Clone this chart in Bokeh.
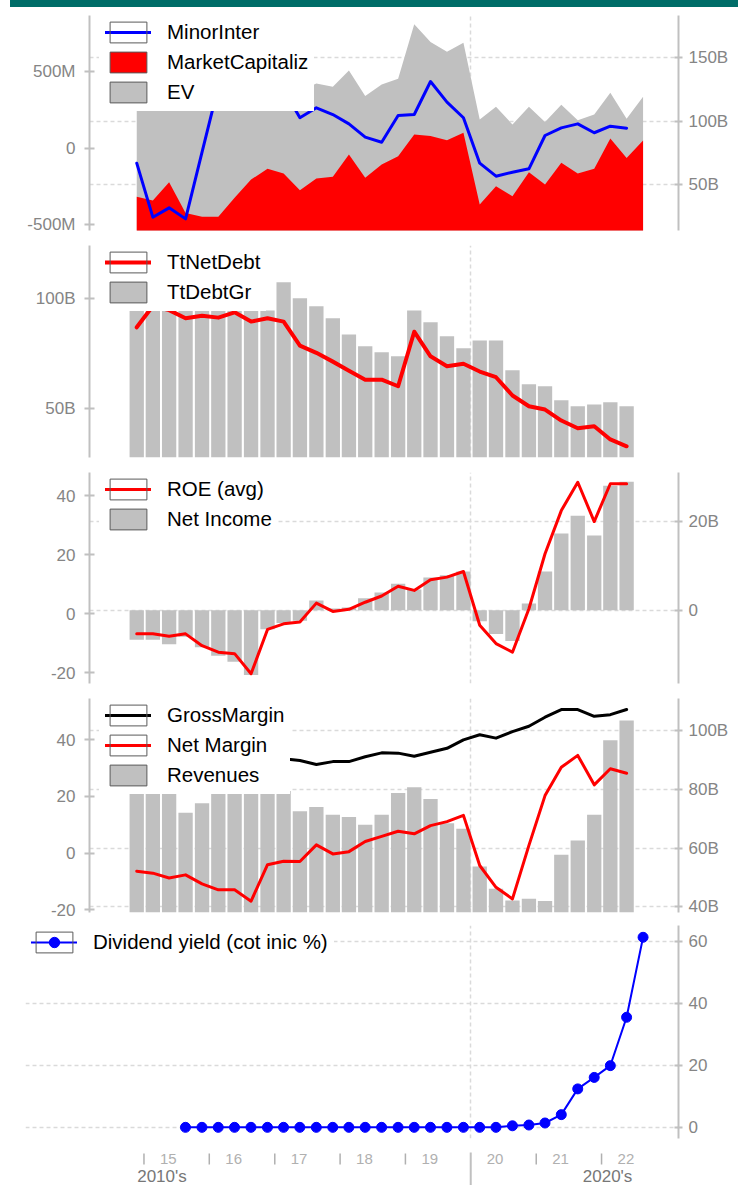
import pandas as pd
from bokeh.plotting import figure
from bokeh.models import Range1d, LinearAxis, FixedTicker, Grid, Legend, LegendItem, Div
from bokeh.layouts import column
from bokeh.embed import file_html
from bokeh.resources import INLINE
from bokeh.core.properties import value

# ---------------- data ----------------
# quarter-end dates, Q4 2014 .. Q3 2022
quarter_ends = [f"{y}-{md}" for y in range(2014, 2023)
                for md in ("03-31", "06-30", "09-30", "12-31")][3:35]

# panel 1
minor_inter_m = [-98, -451, -390, -462, -26, 403, 520, 470, 430, 384, 199, 264, 220, 159, 72,
                 39, 214, 220, 436, 301, 199, -98, -183, -157, -135, 83, 133, 159, 101, 144, 131]
market_cap_b = [40.3, 37.4, 51.8, 27.6, 24.5, 24.5, 39.5, 53.9, 62.4, 58.7, 45.5, 54.7, 56.1,
                73.7, 55.3, 65.8, 72.4, 89.5, 88.2, 85.0, 90.8, 34.2, 48.7, 40.8, 59.7, 50.0,
                67.1, 58.7, 62.4, 86.3, 71.0, 84.7]
ev_b = [118, 115, 120, 112, 110, 115, 122, 126, 130, 127, 124, 129.8, 127.1, 140.0, 119.8,
        129.0, 133.5, 176.4, 162.4, 154.8, 161.9, 101.3, 111.3, 97.4, 111.3, 99.4, 112.9,
        100.8, 105.3, 122.4, 101.9, 119.2]
# panel 2
net_debt_b = [86.8, 96.5, 94.6, 90.9, 92.1, 91.2, 93.6, 89.4, 90.9, 89.4, 78.5, 75.2, 71.2,
              67.1, 63.0, 63.0, 60.0, 84.8, 73.6, 69.1, 70.2, 66.7, 64.1, 55.8, 50.9, 49.4,
              44.4, 40.9, 41.8, 35.8, 32.7]
debt_gross_b = [101, 103, 104, 106, 105, 107, 106, 104, 94.5, 107.3, 100.0, 96.4, 90.9, 83.5,
                78.2, 75.5, 73.6, 94.4, 89.1, 82.7, 77.3, 80.8, 80.8, 67.3, 60.9, 60.0, 53.6,
                50.9, 51.7, 52.7, 50.9]
# panel 3
roe_avg = [-6.8, -6.8, -7.6, -6.8, -10.8, -13.0, -13.5, -20.3, -5.3, -3.4, -2.8, 3.6, 0.8,
           1.5, 3.9, 6.0, 9.3, 7.9, 11.5, 12.4, 14.3, -3.9, -10.1, -13.0, 1.7, 20.3, 34.9,
           44.5, 31.2, 44.0, 44.0]
net_income_b = [-6.7, -6.7, -7.7, -6.0, -8.4, -10.3, -11.7, -14.7, -4.3, -2.9, -2.4, 2.2, 0.4,
                0.6, 2.7, 4.0, 6.0, 4.7, 7.4, 7.9, 8.8, -2.5, -5.4, -7.0, 1.5, 8.8, 17.4, 21.4,
                16.9, 28.2, 29.1]
# panel 4
gross_margin = [31.0, 30.5, 32.0, 31.5, 30.0, 30.5, 31.5, 32.5, 33.0, 33.3, 32.7, 31.3, 32.3,
                32.3, 34.0, 35.4, 35.3, 34.2, 35.6, 37.0, 40.0, 41.8, 40.6, 42.9, 44.8, 48.0,
                50.7, 50.7, 48.3, 48.9, 50.7]
net_margin = [-6.4, -7.1, -8.8, -7.7, -10.9, -13.0, -13.0, -17.0, -4.1, -2.9, -3.0, 2.9, -0.3,
              0.5, 4.1, 5.9, 7.7, 6.8, 9.7, 11.1, 13.3, -4.4, -12.1, -16.2, 2.7, 20.3, 30.3,
              34.5, 24.1, 29.8, 28.2]
revenues_b = [84, 86, 85, 72.1, 75.3, 83, 84, 82, 83, 79.5, 72.6, 74.0, 71.4, 70.6, 68.0, 71.4,
              78.8, 80.8, 76.8, 68.5, 66.6, 53.7, 46.1, 42.1, 42.7, 41.9, 57.7, 62.6, 71.4,
              96.8, 103.6]
# panel 5 (from Q3 2015)
dividend_yield = [0.0, 0.0, 0.0, 0.0, 0.0, 0.0, 0.0, 0.0, 0.0, 0.0, 0.0, 0.0, 0.0, 0.0, 0.0,
                  0.0, 0.0, 0.0, 0.0, 0.0, 0.5, 0.75, 1.4, 4.1, 12.4, 16.1, 19.9, 35.5, 61.3]

# tick labels
p1_left_ticks, p1_left_labels = [-500, 0, 500], ["-500M", "0", "500M"]
p1_right_ticks, p1_right_labels = [50, 100, 150], ["50B", "100B", "150B"]
p2_left_ticks, p2_left_labels = [50, 100], ["50B", "100B"]
pct_ticks, pct_labels = [-20, 0, 20, 40], ["-20", "0", "20", "40"]
p3_right_ticks, p3_right_labels = [0, 20], ["0", "20B"]
p4_right_ticks, p4_right_labels = [40, 60, 80, 100], ["40B", "60B", "80B", "100B"]
p5_right_ticks, p5_right_labels = [0, 20, 40, 60], ["0", "20", "40", "60"]
year_labels = ["15", "16", "17", "18", "19", "20", "21", "22"]
decade_starts = ["2010-01-01", "2020-01-01"]
decade_labels = ["2010's", "2020's"]

# ---------------- style ----------------
FONT = "Liberation Sans"
AXC = "#c0c0c0"
TXT = "#858585"
GRIDC = "#dadada"
BARC = "#c0c0c0"
TEAL = "#006d68"
W = 738

qe = pd.to_datetime(quarter_ends)
x_all = (qe - pd.Timedelta(days=40)).values
x_q = x_all[:31]
x_div = x_all[3:]
bar_w = pd.Timedelta(days=80).total_seconds() * 1000
t2020 = pd.Timestamp(decade_starts[1]).value / 1e6

x_main = Range1d(start=pd.Timestamp("2014-03-02"), end=pd.Timestamp("2023-03-07"))
x_wide = Range1d(start=pd.Timestamp("2013-03-10"), end=pd.Timestamp("2023-03-07"))


def base(height, top, bottom, xr, left, yr):
    p = figure(width=W, height=height, x_range=xr, y_range=Range1d(*yr),
               x_axis_location=None, y_axis_location=None, toolbar_location=None,
               output_backend="svg", min_border_left=left, min_border_right=60,
               min_border_top=top, min_border_bottom=bottom, outline_line_color=None,
               background_fill_color="white", border_fill_color="white", frame_align=False)
    p.center = [c for c in p.center if not isinstance(c, Grid)]
    p.add_layout(Grid(dimension=0, ticker=FixedTicker(ticks=[t2020]), grid_line_color=GRIDC,
                      grid_line_dash="4 3", grid_line_width=1.5))
    return p


def axis(p, side, ticks, labels, rname="default"):
    left = side == "left"
    ax = LinearAxis(y_range_name=rname, ticker=FixedTicker(ticks=ticks, minor_ticks=[]),
                    major_label_overrides={t: l for t, l in zip(ticks, labels)},
                    axis_line_color=AXC, axis_line_width=2, major_tick_line_color=AXC,
                    major_tick_line_width=2, major_tick_in=5 if left else 4,
                    major_tick_out=5 if left else 4, minor_tick_line_color=None,
                    major_label_standoff=9 if left else 6, major_label_text_color=TXT,
                    major_label_text_font=FONT, major_label_text_font_size="17px")
    p.add_layout(ax, side)


def hgrid(p, ticks, rname="default"):
    p.add_layout(Grid(dimension=1, ticker=FixedTicker(ticks=ticks), y_range_name=rname,
                      grid_line_color=GRIDC, grid_line_dash="4 3", grid_line_width=1.5))


PAD, GH, SP = 5, 26, 4


def legend(p, items, frame_h, xoff):
    box = p.quad(left=[float("nan")], right=[float("nan")], top=[float("nan")],
                 bottom=[float("nan")], fill_color=None, line_color="#5a5a5a", line_width=1)
    n = len(items)
    lh = 2 * PAD + n * GH + (n - 1) * SP
    leg = Legend(items=[LegendItem(label=lab, renderers=rs + [box]) for lab, rs in items],
                 location=(xoff, frame_h - lh), padding=PAD, spacing=SP, margin=0,
                 glyph_width=46, glyph_height=GH, label_standoff=16, label_height=20,
                 label_text_font=FONT, label_text_font_size="20.5px",
                 label_text_color="black", background_fill_color="white",
                 background_fill_alpha=1.0, border_line_color="white", border_line_width=1)
    p.add_layout(leg)


def strip(width, height, left, color):
    s = figure(width=width, height=height, x_range=Range1d(0, 1), y_range=Range1d(0, 1),
               x_axis_location=None, y_axis_location=None, toolbar_location=None,
               output_backend="svg", min_border_left=left, min_border_right=0,
               min_border_top=0, min_border_bottom=0, outline_line_color=None,
               background_fill_color=color, border_fill_color="white", frame_align=False)
    s.center = [c for c in s.center if not isinstance(c, Grid)]
    return s


line_kw = dict(line_join="round", line_cap="round")

# ---------------- panel 1 ----------------
p1 = base(228, 8, 5, x_main, 89, (-538, 867.3))
p1.extra_y_ranges = {"r": Range1d(13.7, 183.4)}
hgrid(p1, p1_right_ticks, "r")
ev_r = p1.varea(x=x_all, y1=0, y2=ev_b, fill_color=BARC, y_range_name="r")
mc_r = p1.varea(x=x_all, y1=0, y2=market_cap_b, fill_color="#ff0000", y_range_name="r")
mi_r = p1.line(x=x_q, y=minor_inter_m, line_color="#0000ff", line_width=3, **line_kw)
axis(p1, "left", p1_left_ticks, p1_left_labels)
axis(p1, "right", p1_right_ticks, p1_right_labels, "r")
legend(p1, [("MinorInter", [mi_r]), ("MarketCapitaliz", [mc_r]), ("EV", [ev_r])], 215, 10)

# ---------------- panel 2 ----------------
p2 = base(226, 8, 6, x_main, 89, (27.6, 124.0))
dg_r = p2.vbar(x=x_q, top=debt_gross_b, bottom=0, width=bar_w, fill_color=BARC, line_color=None)
nd_r = p2.line(x=x_q, y=net_debt_b, line_color="#ff0000", line_width=4, **line_kw)
axis(p2, "left", p2_left_ticks, p2_left_labels)
legend(p2, [("TtNetDebt", [nd_r]), ("TtDebtGr", [dg_r])], 212, 10)

# ---------------- panel 3 ----------------
p3 = base(225, 7, 7, x_main, 89, (-23.6, 47.8))
p3.extra_y_ranges = {"r": Range1d(-16.6, 31.2)}
hgrid(p3, p3_right_ticks, "r")
ni_r = p3.vbar(x=x_q, top=net_income_b, bottom=0, width=bar_w, fill_color=BARC,
               line_color=None, y_range_name="r")
roe_r = p3.line(x=x_q, y=roe_avg, line_color="#ff0000", line_width=3, **line_kw)
axis(p3, "left", pct_ticks, pct_labels)
axis(p3, "right", p3_right_ticks, p3_right_labels, "r")
legend(p3, [("ROE (avg)", [roe_r]), ("Net Income", [ni_r])], 211, 10)

# ---------------- panel 4 ----------------
p4 = base(227, 6, 7, x_main, 89, (-21.0, 54.6))
p4.extra_y_ranges = {"r": Range1d(38.0, 111.1)}
hgrid(p4, p4_right_ticks, "r")
rv_r = p4.vbar(x=x_q, top=revenues_b, bottom=0, width=bar_w, fill_color=BARC,
               line_color=None, y_range_name="r")
gm_r = p4.line(x=x_q, y=gross_margin, line_color="black", line_width=3, **line_kw)
nm_r = p4.line(x=x_q, y=net_margin, line_color="#ff0000", line_width=3, **line_kw)
axis(p4, "left", pct_ticks, pct_labels)
axis(p4, "right", p4_right_ticks, p4_right_labels, "r")
legend(p4, [("GrossMargin", [gm_r]), ("Net Margin", [nm_r]), ("Revenues", [rv_r])], 214, 10)

# ---------------- panel 5 ----------------
p5 = base(223, 4, 6, x_wide, 25, (-3.6, 65.1))
hgrid(p5, p5_right_ticks)
dl_r = p5.line(x=x_div, y=dividend_yield, line_color="#0000ff", line_width=2, **line_kw)
ds_r = p5.scatter(x=x_div, y=dividend_yield, size=10, fill_color="#0000ff", line_color="#0000ff")
axis(p5, "right", p5_right_ticks, p5_right_labels)
legend(p5, [("Dividend yield (cot inic %)", [dl_r, ds_r])], 213, 0)

# ---------------- time axis ----------------
pax = figure(width=W, height=39, x_range=x_wide, y_range=Range1d(39, 0),
             x_axis_location=None, y_axis_location=None, toolbar_location=None,
             output_backend="svg", min_border_left=25, min_border_right=60,
             min_border_top=0, min_border_bottom=0, outline_line_color=None,
             background_fill_color="white", border_fill_color="white", frame_align=False)
pax.center = [c for c in pax.center if not isinstance(c, Grid)]
year_starts = pd.to_datetime([f"20{lab}-01-01" for lab in year_labels])
dec = pd.to_datetime(decade_starts)
minor_years = year_starts[~year_starts.isin(dec)]
pax.segment(x0=minor_years.values, y0=7, x1=minor_years.values, y1=18,
            line_color="#b0b0b0", line_width=1.5)
inner_dec = dec[(dec > year_starts[0]) & (dec < year_starts[-1])]
pax.segment(x0=inner_dec.values, y0=6, x1=inner_dec.values, y1=39, line_color=AXC, line_width=2)
pax.text(x=year_starts.values, y=12.5, text=year_labels, x_offset=16, text_align="left",
         text_baseline="middle", text_font=value(FONT), text_font_size="15px",
         text_color="#b0b0b0")
dec_anchor = pd.to_datetime([str(year_starts[0].date()), str(year_starts[-1].date())])
pax.text(x=dec_anchor.values, y=29.5, text=decade_labels, x_offset=[18, 6], text_align="center",
         text_baseline="middle", text_font=value(FONT), text_font_size="17px",
         text_color="#777777")

# ---------------- layout ----------------
top_bar = Div(text="", width=W - 10, height=7, margin=(0, 0, 0, 10),
              styles={"background-color": TEAL})
seps = [strip(W, 2, 25, "#c4c4c4") for _ in range(5)]
layout = column(top_bar, p1, seps[0], p2, seps[1], p3, seps[2], p4, seps[3], p5, seps[4], pax)

open("out.html", "w").write(file_html(layout, INLINE))
